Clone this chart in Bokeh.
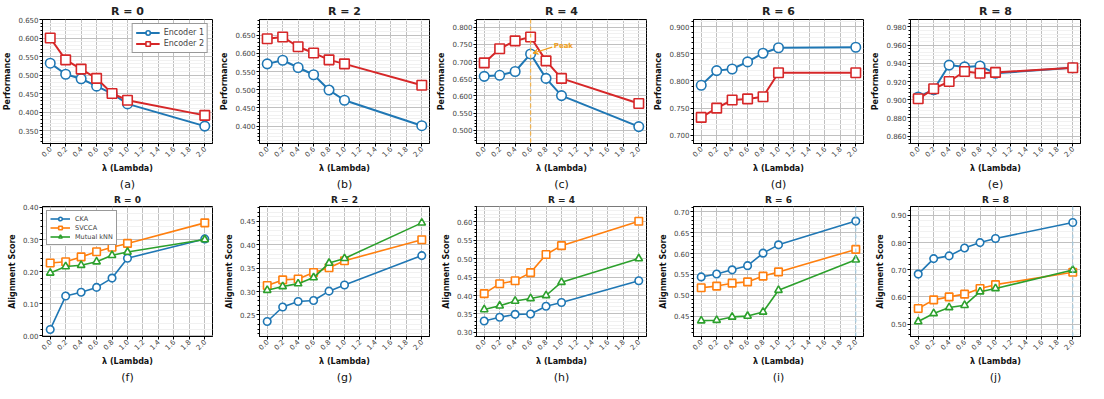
import math
import numpy as np
from bokeh.plotting import figure
from bokeh.layouts import gridplot
from bokeh.models import FixedTicker, NumeralTickFormatter, Title, Span, Arrow, VeeHead, Label
from bokeh.embed import file_html
from bokeh.resources import INLINE

# ---------------- data ----------------
lam = [0.0, 0.2, 0.4, 0.6, 0.8, 1.0, 2.0]
x_ticks = [0.0, 0.2, 0.4, 0.6, 0.8, 1.0, 1.2, 1.4, 1.6, 1.8, 2.0]
r_labels = ["R = 0", "R = 2", "R = 4", "R = 6", "R = 8"]
top_captions = ["(a)", "(b)", "(c)", "(d)", "(e)"]
bottom_captions = ["(f)", "(g)", "(h)", "(i)", "(j)"]

enc1_r0 = [0.532, 0.502, 0.490, 0.470, 0.450, 0.422, 0.362]
enc2_r0 = [0.600, 0.541, 0.516, 0.491, 0.450, 0.432, 0.391]
enc1_r2 = [0.571, 0.581, 0.561, 0.541, 0.499, 0.471, 0.401]
enc2_r2 = [0.640, 0.645, 0.618, 0.601, 0.582, 0.571, 0.512]
enc1_r4 = [0.657, 0.660, 0.671, 0.722, 0.651, 0.601, 0.511]
enc2_r4 = [0.696, 0.737, 0.760, 0.771, 0.702, 0.651, 0.578]
enc1_r6 = [0.792, 0.819, 0.822, 0.835, 0.851, 0.861, 0.862]
enc2_r6 = [0.733, 0.750, 0.765, 0.767, 0.771, 0.815, 0.815]
enc1_r8 = [0.903, 0.911, 0.938, 0.936, 0.937, 0.929, 0.935]
enc2_r8 = [0.901, 0.912, 0.920, 0.931, 0.929, 0.930, 0.935]

cka_r0 = [0.020, 0.124, 0.136, 0.151, 0.180, 0.242, 0.302]
svcca_r0 = [0.227, 0.231, 0.246, 0.262, 0.276, 0.288, 0.352]
knn_r0 = [0.196, 0.216, 0.220, 0.231, 0.251, 0.261, 0.300]
cka_r2 = [0.236, 0.267, 0.279, 0.281, 0.301, 0.314, 0.377]
svcca_r2 = [0.313, 0.325, 0.327, 0.341, 0.351, 0.366, 0.411]
knn_r2 = [0.303, 0.311, 0.317, 0.330, 0.361, 0.371, 0.447]
cka_r4 = [0.331, 0.341, 0.349, 0.350, 0.371, 0.381, 0.440]
svcca_r4 = [0.405, 0.432, 0.440, 0.462, 0.511, 0.535, 0.601]
knn_r4 = [0.362, 0.372, 0.385, 0.392, 0.400, 0.436, 0.500]
cka_r6 = [0.544, 0.551, 0.561, 0.571, 0.601, 0.621, 0.678]
svcca_r6 = [0.518, 0.522, 0.529, 0.532, 0.546, 0.556, 0.610]
knn_r6 = [0.439, 0.440, 0.448, 0.450, 0.460, 0.512, 0.585]
cka_r8 = [0.684, 0.741, 0.751, 0.780, 0.800, 0.815, 0.874]
svcca_r8 = [0.557, 0.589, 0.600, 0.610, 0.631, 0.645, 0.691]
knn_r8 = [0.509, 0.539, 0.561, 0.569, 0.619, 0.631, 0.699]

enc1_all = [enc1_r0, enc1_r2, enc1_r4, enc1_r6, enc1_r8]
enc2_all = [enc2_r0, enc2_r2, enc2_r4, enc2_r6, enc2_r8]
cka_all = [cka_r0, cka_r2, cka_r4, cka_r6, cka_r8]
svcca_all = [svcca_r0, svcca_r2, svcca_r4, svcca_r6, svcca_r8]
knn_all = [knn_r0, knn_r2, knn_r4, knn_r6, knn_r8]

# axis configuration (ranges / tick steps)
top_yranges = [(0.315, 0.650), (0.352, 0.693), (0.462, 0.822), (0.685, 0.913), (0.852, 0.988)]
top_yticks = [(0.35, 0.65, 0.05), (0.40, 0.65, 0.05), (0.50, 0.80, 0.05), (0.70, 0.90, 0.05), (0.86, 0.98, 0.02)]
bot_yranges = [(-0.002, 0.403), (0.204, 0.482), (0.289, 0.641), (0.401, 0.713), (0.454, 0.933)]
bot_yticks = [(0.0, 0.40, 0.10), (0.25, 0.45, 0.05), (0.30, 0.60, 0.05), (0.45, 0.70, 0.05), (0.50, 0.90, 0.10)]

BLUE = "#1f77b4"
RED = "#d62728"
ORANGE = "#ff7f0e"
GREEN = "#2ca02c"
FONT = "DejaVu Sans"

W = 217
H_TOP = 190
H_BOT = 193


def make_fig(title, title_size, caption, yr, yt, fmt, ylabel, h):
    p = figure(width=W, height=h, x_range=(-0.1, 2.1), y_range=yr,
               output_backend="svg", toolbar_location=None, tools="",
               min_border_left=2, min_border_right=5, min_border_top=0, min_border_bottom=0)
    p.title.text = title
    p.title.align = "center"
    p.title.text_font = FONT
    p.title.text_font_size = title_size
    p.title.text_font_style = "bold"
    p.title.text_color = "#222222"
    p.title.standoff = 4
    p.outline_line_color = "black"
    p.outline_line_width = 1
    p.outline_line_alpha = 1

    lo, hi, st = yt
    n = int(round((hi - lo) / st))
    majors = [round(lo + i * st, 4) for i in range(n + 1)]
    minors = [round(lo - st + i * st / 5, 5) for i in range(5 * (n + 3))]
    p.yaxis.ticker = FixedTicker(ticks=majors, minor_ticks=minors)
    p.yaxis.formatter = NumeralTickFormatter(format=fmt)
    p.xaxis.ticker = FixedTicker(ticks=x_ticks, minor_ticks=[])
    p.xaxis.formatter = NumeralTickFormatter(format="0.0")
    p.xaxis.major_label_orientation = math.pi / 4

    p.axis.major_label_text_font = FONT
    p.axis.major_label_text_font_size = "7px"
    p.axis.major_label_text_color = "#444444"
    p.axis.axis_label_text_font = FONT
    p.axis.axis_label_text_font_size = "8px"
    p.axis.axis_label_text_font_style = "bold"
    p.axis.axis_label_text_color = "#111111"
    p.axis.major_tick_in = 0
    p.axis.major_tick_out = 3
    p.axis.minor_tick_in = 0
    p.axis.minor_tick_out = 2
    p.axis.axis_line_color = "black"
    p.axis.major_label_standoff = 1
    p.xaxis.axis_label = "λ (Lambda)"
    p.yaxis.axis_label = ylabel
    p.xaxis.axis_label_standoff = 1
    p.yaxis.axis_label_standoff = 3

    p.xgrid.grid_line_color = "#c0c0c0"
    p.ygrid.grid_line_color = "#c0c0c0"
    p.ygrid.minor_grid_line_color = "#f1f1f1"

    p.add_layout(Title(text=caption, align="center", text_font=FONT,
                       text_font_size="11px", text_font_style="normal",
                       text_color="#111111", standoff=0, offset=0), "below")
    return p


def series(p, ys, color, marker, label, size, lw):
    kw = {}
    if label is not None:
        kw["legend_label"] = label
    p.line(lam, ys, line_color=color, line_width=lw, **kw)
    p.scatter(lam, ys, marker=marker, size=size, line_color=color, line_width=1.6,
              fill_color="white", **kw)


figs_top = []
for i in range(5):
    p = make_fig(r_labels[i], "11px", top_captions[i], top_yranges[i], top_yticks[i],
                 "0.000", "Performance", H_TOP)
    if i == 2:
        p.add_layout(Span(location=0.6, dimension="height", line_color="#f5b041",
                          line_dash="4 3", line_width=1.3, line_alpha=0.9))
    lab1 = "Encoder 1" if i == 0 else None
    lab2 = "Encoder 2" if i == 0 else None
    series(p, enc1_all[i], BLUE, "circle", lab1, 9.5, 2)
    series(p, enc2_all[i], RED, "square", lab2, 9.5, 2)
    if i == 2:
        p.add_layout(Arrow(end=VeeHead(size=5, line_color="#f0a020", fill_color="#f0a020"),
                           x_start=0.88, y_start=0.742, x_end=0.63, y_end=0.724,
                           line_color="#f0a020", line_width=1.2))
        p.add_layout(Label(x=0.9, y=0.745, text="Peak", text_font=FONT,
                           text_font_size="7px", text_font_style="bold",
                           text_color="#f0a020", text_baseline="middle"))
    if i == 0:
        lg = p.legend[0]
        lg.location = "top_right"
        lg.label_text_font = FONT
        lg.label_text_font_size = "8px"
        lg.label_height = 11
        lg.glyph_height = 11
        lg.glyph_width = 24
        lg.spacing = 0
        lg.padding = 3
        lg.margin = 4
        lg.label_standoff = 4
        lg.border_line_color = "#333333"
        lg.border_line_width = 1
        lg.background_fill_alpha = 1
    figs_top.append(p)

figs_bot = []
for i in range(5):
    p = make_fig(r_labels[i], "9px", bottom_captions[i], bot_yranges[i], bot_yticks[i],
                 "0.00", "Alignment Score", H_BOT)
    if i >= 3:
        p.add_layout(Span(location=2.0, dimension="height", line_color="#9ecae1",
                          line_dash="4 3", line_width=1.2, line_alpha=0.9))
    l1 = "CKA" if i == 0 else None
    l2 = "SVCCA" if i == 0 else None
    l3 = "Mutual kNN" if i == 0 else None
    series(p, cka_all[i], BLUE, "circle", l1, 7.5, 1.6)
    series(p, svcca_all[i], ORANGE, "square", l2, 7.5, 1.6)
    series(p, knn_all[i], GREEN, "triangle", l3, 7.5, 1.6)
    if i == 0:
        lg = p.legend[0]
        lg.location = "top_left"
        lg.label_text_font = FONT
        lg.label_text_font_size = "6.5px"
        lg.label_height = 9
        lg.glyph_height = 9
        lg.glyph_width = 20
        lg.spacing = 0
        lg.padding = 3
        lg.margin = 4
        lg.border_line_color = "#333333"
        lg.border_line_width = 1
        lg.background_fill_alpha = 1
    figs_bot.append(p)

grid = gridplot([figs_top, figs_bot], toolbar_location=None)

open("out.html", "w").write(file_html(grid, INLINE))
